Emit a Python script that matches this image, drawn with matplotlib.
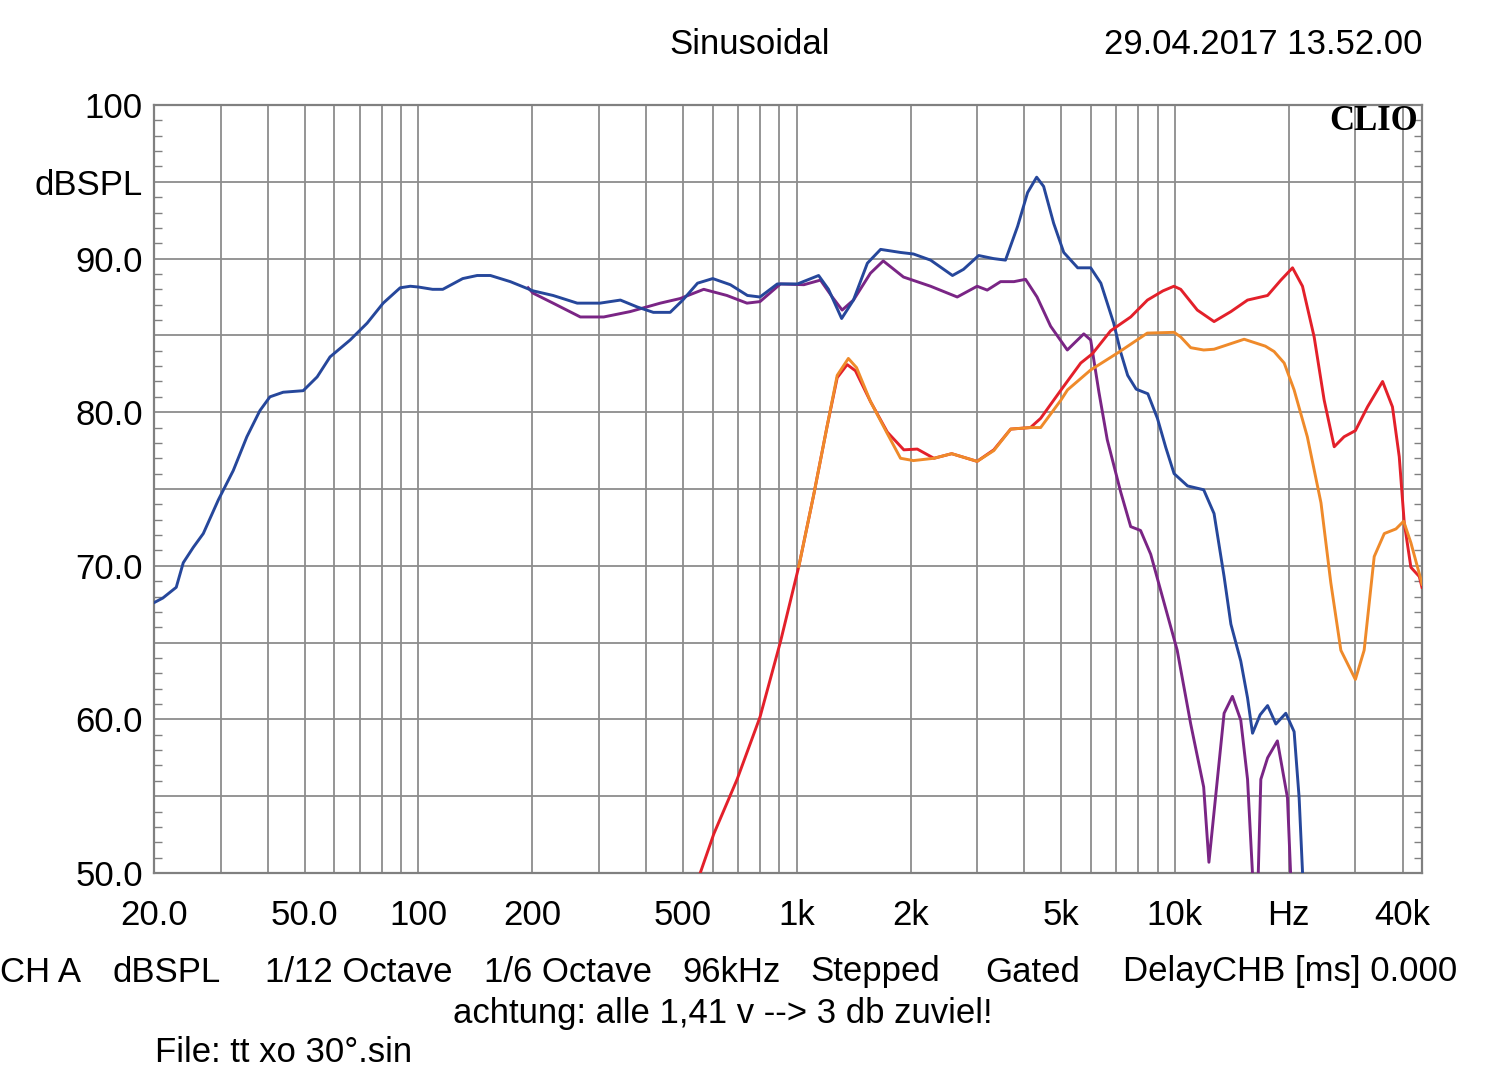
import numpy as np
import matplotlib.pyplot as plt

plt.rcParams['font.family'] = ['Liberation Sans', 'DejaVu Sans']

# ---- data (Hz, dBSPL) ----
blue_f = [20, 21.1, 22.9, 23.9, 25.4, 27.0, 29.6, 32.4, 35.2, 38.1, 40.5, 43.9, 49.6,
          54.0, 58.4, 66.0, 73.2, 80.7, 89.5, 95.2, 100, 109, 116, 131, 143, 155, 175,
          201, 227, 263, 302, 342, 379, 418, 463, 500, 547, 600, 668, 741, 800, 889,
          1005, 1143, 1214, 1315, 1413, 1538, 1667, 1882, 2036, 2260, 2582, 2761, 3028,
          3316, 3565, 3838, 4079, 4310, 4497, 4780, 5083, 5534, 5988, 6371, 6888, 7190,
          7500, 7900, 8480, 8990, 9460, 9950, 10800, 11913, 12690, 13490, 14060, 14930,
          15560, 16040, 16800, 17580, 18490, 19640, 20660, 21300, 21740, 22200]
blue_db = [67.6, 67.9, 68.6, 70.2, 71.2, 72.1, 74.3, 76.2, 78.4, 80.1, 81.0, 81.3, 81.4,
           82.3, 83.6, 84.7, 85.8, 87.1, 88.1, 88.2, 88.15, 88.0, 88.0, 88.7, 88.9, 88.9, 88.5,
           87.9, 87.6, 87.1, 87.1, 87.3, 86.85, 86.5, 86.5, 87.3, 88.4, 88.7, 88.3, 87.6, 87.5, 88.35,
           88.35, 88.9, 88.0, 86.1, 87.3, 89.7, 90.6, 90.4, 90.3, 89.9, 88.9, 89.3, 90.2,
           90.0, 89.9, 92.1, 94.3, 95.3, 94.7, 92.3, 90.4, 89.4, 89.4, 88.4, 85.8, 83.9,
           82.4, 81.5, 81.2, 79.6, 77.7, 76.0, 75.2, 74.95, 73.4, 69.3, 66.2, 63.8,
           61.4, 59.1, 60.3, 60.9, 59.7, 60.4, 59.2, 54.9, 50.1, 45.0]

purple_f = [195, 201, 227, 268, 309, 363, 436, 492, 568, 654, 739, 800, 906, 1045, 1156,
            1242, 1319, 1413, 1567, 1694, 1916, 2260, 2658, 3000, 3190, 3460, 3754, 4028,
            4320, 4692, 5194, 5742, 5988, 6297, 6625, 7190, 7640, 8113, 8630, 9360, 10140,
            11010, 11913, 12300, 12950, 13490, 14190, 14930, 15560, 16040, 16200, 16360,
            16870, 17580, 18660, 19840, 20300, 20660]
purple_db = [88.1, 87.75, 87.1, 86.2, 86.2, 86.55, 87.1, 87.4, 88.0, 87.6, 87.1, 87.2, 88.35, 88.3, 88.6,
             87.5, 86.65, 87.3, 89.05, 89.85, 88.8, 88.2, 87.5, 88.2, 87.95, 88.5, 88.5, 88.65,
             87.5, 85.6, 84.05, 85.1, 84.7, 81.3, 78.2, 74.8, 72.55, 72.3, 70.75, 67.6, 64.5,
             59.7, 55.6, 50.7, 56.1, 60.4, 61.5, 59.95, 56.1, 49.9, 44.0, 44.0,
             56.1, 57.5, 58.6, 54.9, 49.0, 44.0]

red_f = [556, 604, 696, 800, 906, 1013, 1110, 1204, 1280, 1360, 1430, 1567, 1737, 1920,
         2084, 2306, 2570, 3000, 3320, 3680, 4150, 4416, 5000, 5636, 6048, 6762, 7640,
         8460, 9300, 9940, 10358, 11460, 12690, 14060, 15560, 17580, 19060, 20460, 21740,
         23340, 24800, 26370, 28000, 30000, 32300, 35400, 37590, 39180, 40390, 42060,
         44260, 45000]
red_db = [50.0, 52.55, 56.1, 60.15, 65.05, 69.95, 74.65, 79.1, 82.25, 83.1, 82.7, 80.7, 78.7, 77.55,
          77.6, 77.0, 77.3, 76.8, 77.55, 78.9, 79.0, 79.6, 81.45, 83.2, 83.8, 85.3, 86.2,
          87.3, 87.9, 88.2, 88.0, 86.65, 85.9, 86.55, 87.3, 87.6, 88.6, 89.4, 88.2,
          84.9, 80.8, 77.75, 78.4, 78.8, 80.35, 82.0, 80.35, 77.1, 72.8, 69.9,
          69.3, 68.6]

orange_f = [1013, 1110, 1204, 1280, 1370, 1440, 1567, 1737, 1882, 2036, 2306, 2570, 3000,
            3320, 3680, 4150, 4416, 5000, 5200, 5988, 7100, 8452, 9950, 10358, 11010, 11913,
            12690, 15240, 17340, 18290, 19450, 20660, 22390, 24330, 25830, 27460, 30000,
            31640, 33640, 35770, 38400, 40240, 42060, 44700, 45000]
orange_db = [69.95, 74.65, 79.1, 82.4, 83.5, 82.9, 80.7, 78.6, 77.0, 76.85, 77.0, 77.3, 76.8,
             77.5, 78.9, 79.0, 79.0, 80.8, 81.45, 82.75, 83.9, 85.15, 85.2, 84.9, 84.2, 84.05,
             84.1, 84.75, 84.3, 83.95, 83.2, 81.45, 78.4, 74.1, 68.9, 64.5, 62.6,
             64.5, 70.6, 72.1, 72.4, 72.9, 71.5, 69.1, 68.8]

grid_f = [20, 30, 40, 50, 60, 70, 80, 90, 100, 200, 300, 400, 500, 600, 700, 800, 900,
          1000, 2000, 3000, 4000, 5000, 6000, 7000, 8000, 9000, 10000, 20000, 30000, 40000]
xlabels = {20: '20.0', 50: '50.0', 100: '100', 200: '200', 500: '500', 1000: '1k',
           2000: '2k', 5000: '5k', 10000: '10k', 20000: 'Hz', 40000: '40k'}
ylabels = {100: '100', 95: 'dBSPL', 90: '90.0', 80: '80.0', 70: '70.0', 60: '60.0', 50: '50.0'}

fs = 25

fig = plt.figure(figsize=(15, 10.86), dpi=100)
ax = fig.add_axes([154/1500, 213/1086, 1268/1500, 768/1086])

ax.plot(purple_f, purple_db, color='#7a2585', lw=2.1, zorder=3)
ax.plot(blue_f, blue_db, color='#26479b', lw=2.1, zorder=4)
ax.plot(red_f, red_db, color='#e3202a', lw=2.1, zorder=5)
ax.plot(orange_f, orange_db, color='#ef8a2a', lw=2.1, zorder=6)

ax.set_xscale('log')
ax.set_xlim(20, 45000)
ax.set_ylim(50, 100)

ax.set_xticks(grid_f)
ax.set_xticklabels([xlabels.get(f, '') for f in grid_f])
ax.xaxis.set_minor_locator(plt.NullLocator())
yt = np.arange(50, 101, 5)
ax.set_yticks(yt)
ax.set_yticklabels([ylabels.get(int(v), '') for v in yt])
ax.set_yticks(np.arange(50, 101, 1), minor=True)

ax.tick_params(axis='x', length=0, pad=19, labelsize=fs)
ax.tick_params(axis='y', which='major', length=0, pad=8, labelsize=fs)
ax.tick_params(axis='y', which='minor', direction='in', length=6, width=1,
               color='#808080', left=True, right=True)
ax.grid(True, which='major', color='#8c8c8c', lw=1.3)
for s in ax.spines.values():
    s.set_color('#808080')
    s.set_linewidth(1.6)

ax.text(0.997, 0.978, 'CLIO', transform=ax.transAxes, ha='right', va='center',
        family='Liberation Serif', weight='bold', fontsize=25, zorder=10)

fig.text(750/1500, 1 - 45/1086, 'Sinusoidal', ha='center', va='center', fontsize=fs)
fig.text(1422/1500, 1 - 45/1086, '29.04.2017 13.52.00', ha='right', va='center', fontsize=fs)

yb = 1 - 972/1086
for x, t in [(0, 'CH A'), (113, 'dBSPL'), (265, '1/12 Octave'), (484, '1/6 Octave'),
             (682, '96kHz'), (810, 'Stepped'), (985, 'Gated'), (1123, 'DelayCHB [ms] 0.000')]:
    fig.text(x/1500, yb, t, ha='left', va='center', fontsize=fs)
fig.text(723/1500, 1 - 1013/1086, 'achtung: alle 1,41 v --> 3 db zuviel!', ha='center',
         va='center', fontsize=fs)
fig.text(155/1500, 1 - 1052/1086, 'File: tt xo 30°.sin', ha='left', va='center', fontsize=fs)

fig.savefig('out.png', dpi=100)
